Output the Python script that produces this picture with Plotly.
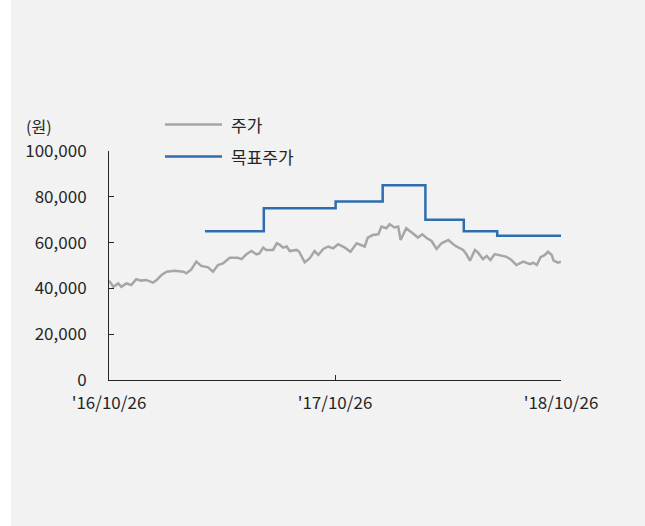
import plotly.graph_objects as go

# 주가 (stock price)
price_dates = [
    "2016-10-26", "2016-11-02", "2016-11-10", "2016-11-15", "2016-11-23", "2016-12-01",
    "2016-12-09", "2016-12-17", "2016-12-25", "2017-01-05", "2017-01-11", "2017-01-19",
    "2017-01-27", "2017-02-09", "2017-02-23", "2017-02-28", "2017-03-08", "2017-03-16",
    "2017-03-24", "2017-04-04", "2017-04-12", "2017-04-20", "2017-04-28", "2017-05-09",
    "2017-05-22", "2017-05-28", "2017-06-05", "2017-06-13", "2017-06-21", "2017-06-26",
    "2017-07-02", "2017-07-07", "2017-07-18", "2017-07-24", "2017-07-29", "2017-08-03",
    "2017-08-09", "2017-08-14", "2017-08-25", "2017-08-29", "2017-09-07", "2017-09-15",
    "2017-09-23", "2017-09-29", "2017-10-07", "2017-10-15", "2017-10-23", "2017-10-31",
    "2017-11-11", "2017-11-20", "2017-11-30", "2017-12-08", "2017-12-13", "2017-12-18",
    "2017-12-26", "2018-01-04", "2018-01-09", "2018-01-17", "2018-01-22", "2018-01-30",
    "2018-02-05", "2018-02-09", "2018-02-18", "2018-03-01", "2018-03-09", "2018-03-16",
    "2018-03-23", "2018-03-31", "2018-04-08", "2018-04-16", "2018-04-27", "2018-05-05",
    "2018-05-10", "2018-05-21", "2018-05-26", "2018-06-01", "2018-06-09", "2018-06-14",
    "2018-06-22", "2018-06-28", "2018-07-04", "2018-07-11", "2018-07-19", "2018-07-30",
    "2018-08-07", "2018-08-15", "2018-08-26", "2018-09-06", "2018-09-11", "2018-09-17",
    "2018-09-23", "2018-09-30", "2018-10-05", "2018-10-11", "2018-10-14", "2018-10-21",
    "2018-10-26",
]
price_values = [
    43400, 40700, 42200, 40700, 42200, 41500,
    44000, 43400, 43700, 42500, 43700, 45900,
    47300, 47700, 47300, 46600, 48300, 51700,
    49800, 49200, 47300, 50200, 50900, 53400,
    53400, 52800, 54900, 56300, 54900, 55300,
    57800, 56800, 56800, 59700, 59000, 57800,
    58300, 56300, 56800, 56100, 51400, 53100,
    56300, 54600, 57200, 58300, 57500, 59300,
    57800, 56000, 59700, 59000, 58300, 62200,
    63300, 63600, 67000, 66300, 68000, 66600,
    67000, 61100, 66300, 64000, 62200, 63600,
    62000, 60700, 57200, 59700, 61100, 59300,
    58300, 56800, 55000, 52100, 56800, 55600,
    52800, 54200, 52400, 55000, 54600, 53800,
    52400, 50200, 51700, 50600, 51200, 50200,
    53600, 54600, 56000, 54600, 52100, 51200,
    51700,
]

# 목표주가 (target price), step changes
target_dates = [
    "2017-03-30", "2017-07-03", "2017-10-27", "2018-01-11",
    "2018-03-21", "2018-05-22", "2018-07-15", "2018-10-26",
]
target_values = [65000, 75000, 78000, 85000, 70000, 65000, 63000, 63000]

x_tick_vals = ["2016-10-26", "2017-10-26", "2018-10-26"]
x_tick_text = ["'16/10/26", "'17/10/26", "'18/10/26"]
y_tick_vals = [0, 20000, 40000, 60000, 80000, 100000]

FONT = "Noto Sans CJK KR"
TXT = "#262626"
GRAY = "#a6a6a6"
BLUE = "#2e6eae"

fig = go.Figure()
fig.add_trace(go.Scatter(
    x=price_dates, y=price_values, mode="lines", name="주가",
    line=dict(color=GRAY, width=2.5), showlegend=False,
))
fig.add_trace(go.Scatter(
    x=target_dates, y=target_values, mode="lines", name="목표주가",
    line=dict(color=BLUE, width=2.5, shape="hv"), showlegend=False,
))

W, H = 645, 526
L, R, T, B = 109, 84, 151, 146
pw, ph = W - L - R, H - T - B

def px(x):
    return (x - L) / pw

def py(y):
    return (H - B - y) / ph

shapes = [
    # background panel (white strip on the left)
    dict(type="rect", xref="paper", yref="paper", x0=px(11), x1=px(W + 5),
         y0=py(H + 5), y1=py(-5), fillcolor="#f2f2f2", line=dict(width=0), layer="below"),
    # legend lines
    dict(type="line", xref="paper", yref="paper", x0=px(165), x1=px(222),
         y0=py(124.5), y1=py(124.5), line=dict(color=GRAY, width=2.5)),
    dict(type="line", xref="paper", yref="paper", x0=px(165), x1=px(222),
         y0=py(156.5), y1=py(156.5), line=dict(color=BLUE, width=2.5)),
]

annotations = [
    dict(text="주가", xref="paper", yref="paper", x=px(229), y=py(124.5),
         xanchor="left", yanchor="middle", showarrow=False,
         font=dict(family=FONT, size=17, color=TXT)),
    dict(text="목표주가", xref="paper", yref="paper", x=px(229), y=py(156.5),
         xanchor="left", yanchor="middle", showarrow=False,
         font=dict(family=FONT, size=17, color=TXT)),
    dict(text="(원)", xref="paper", yref="paper", x=px(39), y=py(126),
         xanchor="center", yanchor="middle", showarrow=False,
         font=dict(family=FONT, size=16, color=TXT)),
]

fig.update_layout(
    width=W, height=H,
    margin=dict(l=L, r=R, t=T, b=B, pad=0),
    paper_bgcolor="white", plot_bgcolor="rgba(0,0,0,0)",
    font=dict(family=FONT, size=17, color=TXT),
    shapes=shapes, annotations=annotations,
    showlegend=False,
)
fig.update_xaxes(
    type="date", range=["2016-10-26", "2018-10-26"],
    tickvals=x_tick_vals, ticktext=x_tick_text,
    ticks="inside", ticklen=5, tickcolor=TXT, tickwidth=1,
    showline=True, linecolor=TXT, linewidth=1,
    showgrid=False, zeroline=False, ticklabelstandoff=8,
    tickfont=dict(family=FONT, size=17, color=TXT),
)
fig.update_yaxes(
    range=[0, 100000], tickvals=y_tick_vals, tickformat=",",
    ticks="inside", ticklen=5, tickcolor=TXT, tickwidth=1,
    showline=True, linecolor=TXT, linewidth=1,
    showgrid=False, zeroline=False, ticklabelstandoff=18,
    tickfont=dict(family=FONT, size=17, color=TXT),
)

fig.write_html("out.html")
